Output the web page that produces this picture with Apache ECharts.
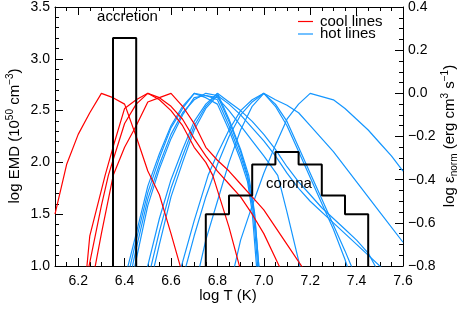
<!DOCTYPE html>
<html><head><meta charset="utf-8">
<script src="https://cdn.jsdelivr.net/npm/echarts@6/dist/echarts.min.js"></script>
<style>html,body{margin:0;padding:0;background:#fff}#c{width:463px;height:309px}</style>
</head><body><div id="c"></div>
<script>
// ---- tick labels ----
const xTicks = [6.2, 6.4, 6.6, 6.8, 7.0, 7.2, 7.4, 7.6];

// ---- EMD histograms (left axis) ----
const accretionEdges = [6.35, 6.45];
const accretionEMD = [3.2];
const coronaEdges = [6.75, 6.85, 6.95, 7.05, 7.15, 7.25, 7.35, 7.45];
const coronaEMD = [1.5, 1.68, 1.98, 2.10, 1.98, 1.68, 1.5];
const emdBase = 1.0;

// ---- cool lines: log emissivity (right axis) ----
const cool1 = [[6.10,-0.56],[6.15,-0.33],[6.20,-0.19],[6.25,-0.09],[6.30,0.0],[6.35,-0.02],[6.40,-0.05],[6.45,-0.20],[6.50,-0.36],[6.55,-0.47],[6.60,-0.65],[6.645,-0.82]];
const cool2 = [[6.236,-0.82],[6.25,-0.66],[6.316,-0.38],[6.35,-0.25],[6.40,-0.07],[6.45,-0.03],[6.50,0.0],[6.55,-0.03],[6.60,-0.08],[6.65,-0.15],[6.70,-0.25],[6.75,-0.32],[6.78,-0.38],[6.85,-0.62],[6.90,-0.82]];
const cool3 = [[6.243,-0.82],[6.30,-0.52],[6.33,-0.38],[6.35,-0.31],[6.40,-0.14],[6.45,-0.05],[6.50,0.0],[6.55,-0.02],[6.60,-0.06],[6.65,-0.12],[6.70,-0.21],[6.75,-0.29],[6.80,-0.36],[6.85,-0.42],[6.90,-0.48],[6.95,-0.56],[7.00,-0.65],[7.075,-0.82]];
const cool4 = [[6.27,-0.82],[6.30,-0.65],[6.351,-0.38],[6.40,-0.25],[6.45,-0.15],[6.50,-0.04],[6.55,-0.02],[6.60,0.0],[6.65,-0.06],[6.70,-0.14],[6.75,-0.25],[6.80,-0.31],[6.85,-0.36],[6.90,-0.42],[6.95,-0.48],[7.00,-0.54],[7.05,-0.62],[7.10,-0.70],[7.175,-0.82]];

// ---- hot lines ----
const hot1 = [[6.41,-0.82],[6.45,-0.65],[6.50,-0.43],[6.55,-0.28],[6.60,-0.15],[6.65,-0.06],[6.70,0.0],[6.75,-0.02],[6.80,-0.05],[6.85,-0.17],[6.90,-0.31],[6.93,-0.41],[6.95,-0.55],[6.97,-0.82]];
const hot2 = [[6.42,-0.82],[6.45,-0.68],[6.50,-0.46],[6.55,-0.30],[6.60,-0.16],[6.65,-0.07],[6.70,0.0],[6.75,-0.01],[6.80,-0.03],[6.85,-0.15],[6.90,-0.29],[6.93,-0.39],[6.955,-0.55],[6.975,-0.82]];
const hot3 = [[6.43,-0.82],[6.45,-0.72],[6.50,-0.49],[6.55,-0.33],[6.60,-0.19],[6.65,-0.09],[6.70,-0.03],[6.75,0.0],[6.80,-0.01],[6.85,-0.13],[6.90,-0.27],[6.93,-0.38],[6.96,-0.56],[6.98,-0.82]];
const hot4 = [[6.495,-0.82],[6.55,-0.58],[6.60,-0.40],[6.65,-0.26],[6.70,-0.13],[6.75,-0.05],[6.80,0.0],[6.85,-0.12],[6.90,-0.26],[6.935,-0.38],[6.96,-0.55],[6.98,-0.82]];
const hot5 = [[6.51,-0.82],[6.55,-0.64],[6.60,-0.44],[6.65,-0.29],[6.70,-0.15],[6.75,-0.06],[6.80,0.0],[6.85,-0.04],[6.90,-0.08],[6.95,-0.13],[7.00,-0.19],[7.05,-0.26],[7.10,-0.34],[7.15,-0.41],[7.20,-0.47],[7.25,-0.53],[7.30,-0.58],[7.35,-0.63],[7.40,-0.68],[7.45,-0.74],[7.49,-0.82]];
const hot6 = [[6.524,-0.82],[6.55,-0.70],[6.60,-0.48],[6.65,-0.32],[6.70,-0.17],[6.75,-0.07],[6.80,-0.01],[6.85,-0.05],[6.90,-0.10],[6.95,-0.16],[7.00,-0.22],[7.05,-0.29],[7.10,-0.37],[7.15,-0.44],[7.20,-0.50],[7.30,-0.60],[7.40,-0.70],[7.52,-0.82]];
const hot7 = [[6.44,-0.82],[6.50,-0.52],[6.55,-0.35],[6.60,-0.21],[6.65,-0.10],[6.70,-0.02],[6.75,-0.01],[6.80,-0.02],[6.85,-0.08],[6.90,-0.15],[6.95,-0.22],[7.00,-0.29],[7.06,-0.38],[7.10,-0.55],[7.16,-0.82]];
const hot8 = [[6.64,-0.82],[6.70,-0.59],[6.76,-0.38],[6.80,-0.28],[6.85,-0.17],[6.90,-0.08],[6.95,-0.03],[7.00,0.0],[7.05,-0.06],[7.10,-0.15],[7.15,-0.27],[7.20,-0.39],[7.25,-0.51],[7.30,-0.63],[7.35,-0.77],[7.365,-0.82]];
const hot9 = [[6.66,-0.82],[6.70,-0.66],[6.75,-0.48],[6.80,-0.33],[6.85,-0.20],[6.90,-0.10],[6.95,-0.04],[7.00,0.0],[7.05,-0.05],[7.10,-0.13],[7.15,-0.25],[7.20,-0.37],[7.25,-0.49],[7.30,-0.61],[7.35,-0.73],[7.385,-0.82]];
const hot10 = [[6.72,-0.82],[6.75,-0.68],[6.80,-0.50],[6.85,-0.32],[6.90,-0.17],[6.95,-0.06],[7.00,0.0],[7.05,-0.03],[7.10,-0.055],[7.15,-0.09],[7.20,-0.15],[7.30,-0.27],[7.40,-0.41],[7.50,-0.55],[7.60,-0.69]];
const hot11 = [[6.87,-0.82],[6.90,-0.68],[6.95,-0.52],[7.00,-0.37],[7.05,-0.24],[7.10,-0.12],[7.15,-0.05],[7.20,0.0],[7.30,-0.03],[7.35,-0.07],[7.40,-0.12],[7.45,-0.17],[7.50,-0.23],[7.55,-0.29],[7.60,-0.36]];

const coolLines = [cool1, cool2, cool3, cool4];
const hotLines = [hot1, hot2, hot3, hot4, hot5, hot6, hot7, hot8, hot9, hot10, hot11];

const RED = '#ff0000';
const BLUE = '#1496ff';
const FONT = 'Liberation Sans, Arial, Helvetica, sans-serif';

function histOutline(edges, vals, base) {
  const pts = [[edges[0], base]];
  for (let i = 0; i < vals.length; i++) {
    pts.push([edges[i], vals[i]]);
    pts.push([edges[i + 1], vals[i]]);
  }
  pts.push([edges[edges.length - 1], base]);
  return pts;
}

function lineSeries(name, data, color, width, yIdx, z) {
  return {
    type: 'line', name: name, data: data, xAxisIndex: 0, yAxisIndex: yIdx,
    symbol: 'none', showSymbol: false, silent: true, animation: false, z: z,
    lineStyle: { color: color, width: width }, itemStyle: { color: color }
  };
}

const series = [];
hotLines.forEach(d => series.push(lineSeries('hot lines', d, BLUE, 1.2, 1, 2)));
coolLines.forEach(d => series.push(lineSeries('cool lines', d, RED, 1.2, 1, 3)));
series.push(lineSeries('accretion', histOutline(accretionEdges, accretionEMD, emdBase), '#000', 2, 0, 4));
series.push(lineSeries('corona', histOutline(coronaEdges, coronaEMD, emdBase), '#000', 2, 0, 4));

const black = { color: '#000', width: 1 };
const xBase = { type: 'value', min: 6.1, max: 7.6, splitLine: { show: false } };
const fmt1 = v => v.toFixed(1);
const fmtSigned = v => (Math.abs(v) < 1e-9 ? '0.0' : (v < 0 ? '\u2212' : '') + Math.abs(v).toFixed(1));

const option = {
  animation: false,
  backgroundColor: '#fff',
  grid: { left: 55, right: 60, top: 7, bottom: 43, containLabel: false },
  xAxis: [
    Object.assign({}, xBase, { position: 'bottom', interval: 0.05,
      axisLine: { show: true, onZero: false, lineStyle: black },
      axisTick: { show: true, inside: true, length: 4, lineStyle: black },
      axisLabel: { show: true, customValues: xTicks, formatter: fmt1, margin: 8, fontSize: 14, color: '#000', fontFamily: FONT } }),
    Object.assign({}, xBase, { position: 'bottom',
      axisLine: { show: false, onZero: false },
      axisTick: { show: true, inside: true, length: 8, customValues: xTicks, lineStyle: black },
      axisLabel: { show: false } }),
    Object.assign({}, xBase, { position: 'top', interval: 0.05,
      axisLine: { show: true, onZero: false, lineStyle: black },
      axisTick: { show: true, inside: true, length: 4, lineStyle: black },
      axisLabel: { show: false } }),
    Object.assign({}, xBase, { position: 'top',
      axisLine: { show: false, onZero: false },
      axisTick: { show: true, inside: true, length: 8, customValues: xTicks, lineStyle: black },
      axisLabel: { show: false } })
  ],
  yAxis: [
    { type: 'value', position: 'left', min: 1.0, max: 3.5, interval: 0.5, splitLine: { show: false },
      axisLine: { show: true, onZero: false, lineStyle: black },
      axisTick: { show: true, inside: true, length: 8, lineStyle: black },
      minorTick: { show: true, splitNumber: 5, length: 4, lineStyle: black },
      axisLabel: { formatter: fmt1, margin: 5, fontSize: 14, color: '#000', fontFamily: FONT } },
    { type: 'value', position: 'right', min: -0.8, max: 0.4, interval: 0.2, splitLine: { show: false },
      axisLine: { show: true, onZero: false, lineStyle: black },
      axisTick: { show: true, inside: true, length: 8, lineStyle: black },
      minorTick: { show: true, splitNumber: 4, length: 4, lineStyle: black },
      axisLabel: { formatter: fmtSigned, margin: 5, fontSize: 14, color: '#000', fontFamily: FONT } }
  ],
  graphic: [
    { type: 'text', x: 127.5, y: 17, silent: true, z: 10,
      style: { text: 'accretion', fontSize: 15, fontFamily: FONT, fill: '#000', align: 'center', verticalAlign: 'middle' } },
    { type: 'text', x: 289, y: 184, silent: true, z: 10,
      style: { text: 'corona', fontSize: 15, fontFamily: FONT, fill: '#000', align: 'center', verticalAlign: 'middle' } },
    { type: 'line', silent: true, z: 10, shape: { x1: 298, y1: 21.5, x2: 313, y2: 21.5 }, style: { stroke: RED, lineWidth: 1.2 } },
    { type: 'line', silent: true, z: 10, shape: { x1: 298, y1: 34, x2: 313, y2: 34 }, style: { stroke: BLUE, lineWidth: 1.2 } },
    { type: 'text', x: 320, y: 21.5, silent: true, z: 10,
      style: { text: 'cool lines', fontSize: 15, fontFamily: FONT, fill: '#000', align: 'left', verticalAlign: 'middle' } },
    { type: 'text', x: 320, y: 34, silent: true, z: 10,
      style: { text: 'hot lines', fontSize: 15, fontFamily: FONT, fill: '#000', align: 'left', verticalAlign: 'middle' } },
    { type: 'text', x: 228, y: 296, silent: true,
      style: { text: 'log T (K)', fontSize: 15, fontFamily: FONT, fill: '#000', align: 'center', verticalAlign: 'middle' } },
    { type: 'text', x: 15, y: 136, rotation: Math.PI / 2, silent: true,
      style: { text: '{t|log EMD (10}{s|50}{t| cm}{s|\u22123}{t|)}', align: 'center', verticalAlign: 'middle', fill: '#000',
        rich: { t: { fontSize: 15, lineHeight: 19, fontFamily: FONT, verticalAlign: 'middle' },
                s: { fontSize: 10, lineHeight: 10, fontFamily: FONT, verticalAlign: 'top' } } } },
    { type: 'text', x: 450, y: 136, rotation: Math.PI / 2, silent: true,
      style: { text: '{t|log \u03b5}{b|norm}{t| (erg cm}{s|3}{t| s}{s|\u22121}{t|)}', align: 'center', verticalAlign: 'middle', fill: '#000',
        rich: { t: { fontSize: 15, lineHeight: 19, fontFamily: FONT, verticalAlign: 'middle' },
                s: { fontSize: 10, lineHeight: 10, fontFamily: FONT, verticalAlign: 'top' },
                b: { fontSize: 10, lineHeight: 10, fontFamily: FONT, verticalAlign: 'bottom' } } } }
  ],
  series: series
};

const chart = echarts.init(document.getElementById('c'), null, { renderer: 'canvas', width: 463, height: 309 });
chart.setOption(option);
</script>
</body></html>
